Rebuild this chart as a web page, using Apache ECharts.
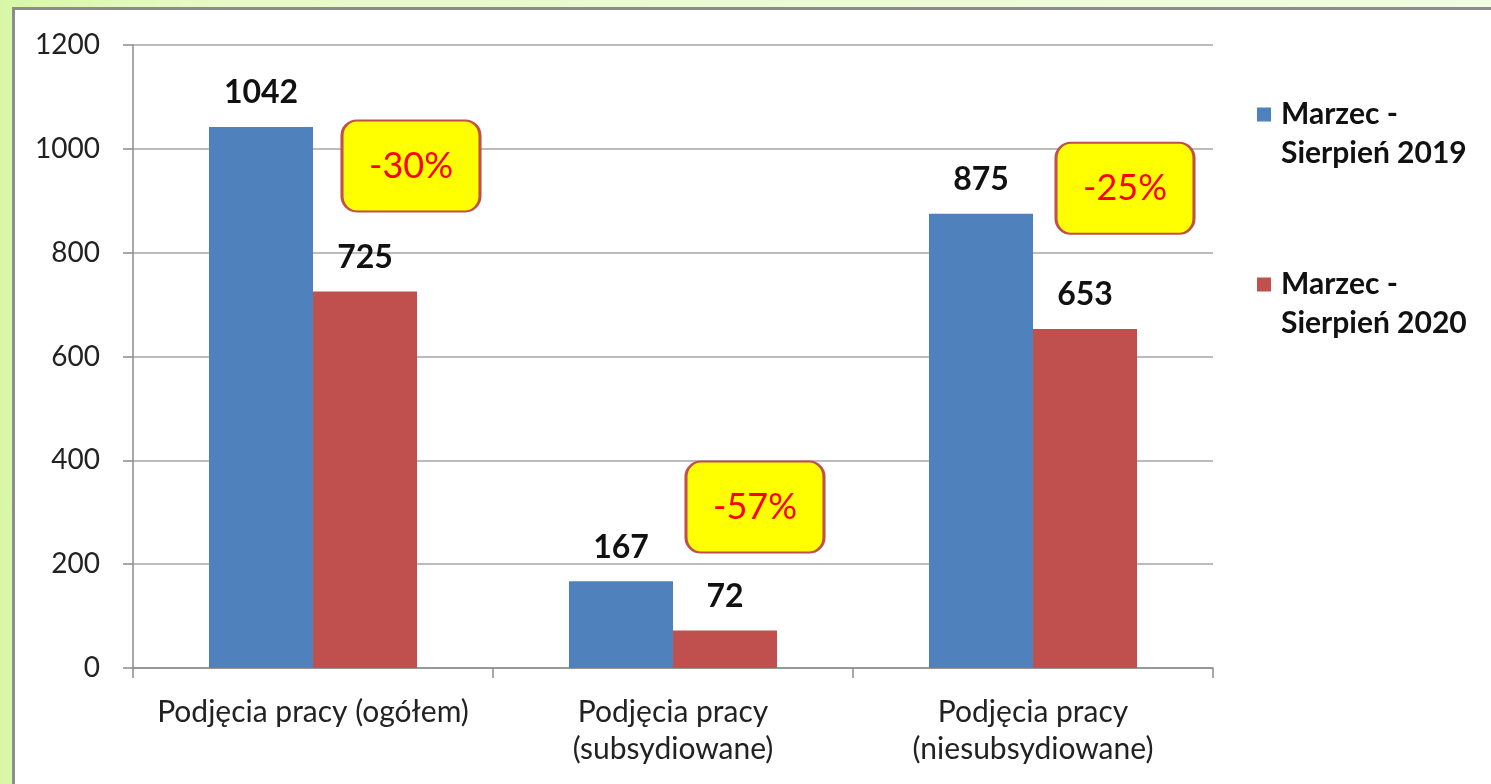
<!DOCTYPE html>
<html>
<head>
<meta charset="utf-8" />
<title>Podjęcia pracy</title>
<script type="text/javascript" src="https://cdn.jsdelivr.net/npm/echarts@6/dist/echarts.min.js"></script>
<style>
  html, body { margin: 0; padding: 0; width: 1491px; height: 784px; overflow: hidden; }
  body { background: linear-gradient(to right, #d8f7a6 0px, #e6fac6 200px, #f0fce0 1491px); }
  #panel { position: absolute; left: 12px; top: 7px; right: 0; bottom: 0; background: #fff;
           border-left: 3px solid #8c8c8c; border-top: 3px solid #8c8c8c; }
  #main { position: absolute; left: 0; top: 0; width: 1491px; height: 784px; }
</style>
</head>
<body>
<div id="panel"></div>
<div id="main"></div>
<script type="text/javascript">
  // dane
  var categories = ['Podjęcia pracy (ogółem)', 'Podjęcia pracy\n(subsydiowane)', 'Podjęcia pracy\n(niesubsydiowane)'];
  var seriesNames = ['Marzec -\nSierpień 2019', 'Marzec -\nSierpień 2020'];
  var values2019 = [1042, 167, 875];
  var values2020 = [725, 72, 653];
  var changeLabels = ['-30%', '-57%', '-25%'];
  var yTicks = [0, 200, 400, 600, 800, 1000, 1200];

  var font = 'Lato, "Open Sans", sans-serif';
  var myChart = echarts.init(document.getElementById('main'));

  // dymki ze zmianą procentową (położenie w jednostkach osi)
  var calloutY = [967, 310, 924];
  var calloutDx = [46, 30, 40];
  var callouts = [];
  for (var i = 0; i < changeLabels.length; i++) {
    callouts.push({
      name: changeLabels[i],
      coord: [i, calloutY[i]],
      symbolOffset: [calloutDx[i], 0]
    });
  }
  // prostokąt z zaokrąglonymi rogami 138x90, promień 15
  var boxPath = 'path://M15,0H123A15,15 0 0 1 138,15V75A15,15 0 0 1 123,90H15A15,15 0 0 1 0,75V15A15,15 0 0 1 15,0Z';

  myChart.setOption({
    animation: false,
    textStyle: { fontFamily: font },
    grid: { left: 133, right: 278, top: 45, bottom: 116 },
    legend: {
      orient: 'vertical',
      left: 1252,
      top: 90,
      itemGap: 92,
      itemWidth: 14,
      itemHeight: 53,
      icon: 'path://M0,0h14v14h-14z M0,53h0.01v0.01h-0.01z',
      textStyle: { fontSize: 30, fontWeight: 'bold', color: '#111', lineHeight: 39, padding: [0, 0, 0, 5], fontFamily: font },
      data: seriesNames
    },
    xAxis: {
      type: 'category',
      data: categories,
      axisLine: { lineStyle: { color: '#8c8c8c', width: 1.5 } },
      axisTick: { show: true, length: 10, lineStyle: { color: '#8c8c8c', width: 1.5 } },
      axisLabel: { fontSize: 30, color: '#222', lineHeight: 37, margin: 26, interval: 0, fontFamily: font }
    },
    yAxis: {
      type: 'value',
      min: 0,
      max: yTicks[yTicks.length - 1],
      interval: yTicks[1] - yTicks[0],
      axisLine: { show: true, lineStyle: { color: '#8c8c8c', width: 1.5 } },
      axisTick: { show: true, length: 10, lineStyle: { color: '#8c8c8c', width: 1.5 } },
      splitLine: { lineStyle: { color: '#a6a6a6', width: 1.5 } },
      axisLabel: { fontSize: 28, color: '#222', margin: 33, fontFamily: font,
                   formatter: function (v) { return String(v); } }
    },
    series: [
      {
        name: seriesNames[0],
        type: 'bar',
        data: values2019,
        barWidth: 104,
        barGap: '0%',
        itemStyle: { color: '#4f81bd' },
        label: { show: true, position: 'top', distance: 18, fontSize: 32, fontWeight: 'bold', color: '#111', fontFamily: font }
      },
      {
        name: seriesNames[1],
        type: 'bar',
        data: values2020,
        barWidth: 104,
        barGap: '0%',
        itemStyle: { color: '#c0504d' },
        label: { show: true, position: 'top', distance: 18, fontSize: 32, fontWeight: 'bold', color: '#111', fontFamily: font },
        markPoint: {
          symbol: boxPath,
          symbolSize: [138, 91],
          itemStyle: { color: '#ffff00', borderColor: '#c0504d', borderWidth: 2.5 },
          label: {
            show: true,
            position: 'inside',
            formatter: function (p) { return p.name; },
            fontSize: 36,
            color: '#ff0000',
            fontFamily: font
          },
          data: callouts
        }
      }
    ]
  });
</script>
</body>
</html>
